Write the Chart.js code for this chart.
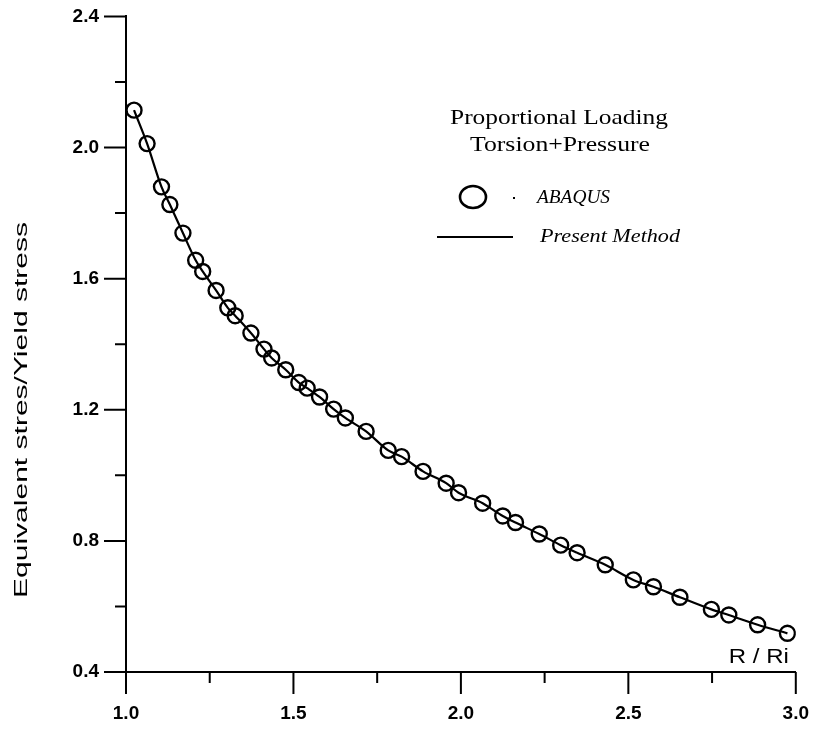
<!DOCTYPE html>
<html>
<head>
<meta charset="utf-8">
<script src="https://cdn.jsdelivr.net/npm/chart.js@4"></script>
<style>
  html, body { margin: 0; padding: 0; background: #fff; }
  #wrap { width: 817px; height: 733px; }
</style>
</head>
<body>
<div id="wrap"><canvas id="myChart"></canvas></div>
<script>
const ctx = document.getElementById("myChart").getContext("2d");

// R / Ri values of the ABAQUS sample points
const radiusRatio = [
  1.024, 1.063, 1.106, 1.131, 1.17, 1.208, 1.229, 1.269, 1.304, 1.326,
  1.373, 1.412, 1.435, 1.477, 1.516, 1.541, 1.578, 1.62, 1.655, 1.717,
  1.783, 1.823, 1.887, 1.956, 1.993, 2.065, 2.125, 2.163, 2.234, 2.298,
  2.347, 2.431, 2.515, 2.575, 2.654, 2.748, 2.8, 2.886, 2.975,
];

// equivalent stress / yield stress at those points
const stressRatio = [
  2.114, 2.012, 1.88, 1.826, 1.739, 1.656, 1.622, 1.564, 1.511, 1.487,
  1.434, 1.385, 1.358, 1.322, 1.283, 1.266, 1.239, 1.202, 1.175, 1.134,
  1.076, 1.057, 1.012, 0.976, 0.947, 0.915, 0.876, 0.856, 0.821, 0.787,
  0.764, 0.727, 0.681, 0.66, 0.628, 0.591, 0.574, 0.544, 0.518,
];

const xTicks = [1.0, 1.5, 2.0, 2.5, 3.0];
const yTicks = [0.4, 0.8, 1.2, 1.6, 2.0, 2.4];

const points = radiusRatio.map((x, i) => ({ x: x, y: stressRatio[i] }));

const SANS = "'Liberation Sans', Arial, sans-serif";
const SERIF = "'Liberation Serif', 'Times New Roman', serif";

// text squeezed or stretched to a given width
function wideText(c, text, x, y, width) {
  const w = c.measureText(text).width;
  c.save();
  c.translate(x, y);
  c.scale(width / w, 1);
  c.fillText(text, 0, 0);
  c.restore();
}

// tick marks (long at labels, short in between), titles and the legend block
const decorations = {
  id: "decorations",
  afterDraw(chart) {
    const c = chart.ctx;
    const xs = chart.scales.x;
    const ys = chart.scales.y;
    const area = chart.chartArea;
    c.save();
    c.strokeStyle = "#000";
    c.lineWidth = 2;
    c.beginPath();
    for (let v = 1.0; v <= 3.0001; v += 0.25) {
      const px = xs.getPixelForValue(v);
      const major = Math.abs(v * 2 - Math.round(v * 2)) < 1e-6;
      c.moveTo(px, area.bottom);
      c.lineTo(px, area.bottom + (major ? 22 : 11));
    }
    for (let v = 0.4; v <= 2.4001; v += 0.2) {
      const py = ys.getPixelForValue(v);
      const major = Math.abs(v / 0.4 - Math.round(v / 0.4)) < 1e-6;
      c.moveTo(area.left, py);
      c.lineTo(area.left - (major ? 22 : 11), py);
    }
    c.stroke();

    // y axis title
    c.fillStyle = "#000";
    c.save();
    c.translate(22, 410);
    c.rotate(-Math.PI / 2);
    c.font = "19px " + SANS;
    c.textAlign = "center";
    c.textBaseline = "middle";
    wideText(c, "Equivalent stres/Yield stress", 0, 0, 376);
    c.restore();

    // x axis title
    c.font = "20px " + SANS;
    c.textAlign = "right";
    c.textBaseline = "middle";
    wideText(c, "R / Ri", area.right - 7, 657, 60);

    // legend
    c.font = "21px " + SERIF;
    c.textAlign = "center";
    wideText(c, "Proportional Loading", 559, 118, 218);
    wideText(c, "Torsion+Pressure", 560, 145, 180);

    c.lineWidth = 2.6;
    c.beginPath();
    c.ellipse(473, 197, 13, 11, 0, 0, Math.PI * 2);
    c.stroke();
    c.fillRect(513, 197, 2, 2);
    c.font = "italic 18px " + SERIF;
    c.textAlign = "left";
    wideText(c, "ABAQUS", 537, 198, 73);

    c.lineWidth = 2;
    c.beginPath();
    c.moveTo(437, 237);
    c.lineTo(513, 237);
    c.stroke();
    wideText(c, "Present Method", 540, 237, 140);
    c.restore();
  },
};

const config = {
  type: "scatter",
  data: {
    datasets: [
      {
        label: "Present Method",
        data: points,
        showLine: true,
        borderColor: "#000",
        borderWidth: 2.2,
        pointRadius: 0,
        cubicInterpolationMode: "monotone",
      },
      {
        label: "ABAQUS",
        data: points,
        showLine: false,
        pointStyle: "circle",
        pointRadius: 7.5,
        pointBorderWidth: 2.4,
        pointBorderColor: "#000",
        pointBackgroundColor: "rgba(0,0,0,0)",
      },
    ],
  },
  options: {
    responsive: true,
    maintainAspectRatio: false,
    animation: false,
    layout: { padding: { top: 16, right: 17, left: 0, bottom: 0 } },
    plugins: {
      legend: { display: false },
      tooltip: { enabled: false },
    },
    scales: {
      x: {
        type: "linear",
        min: 1.0,
        max: 3.0,
        afterBuildTicks: (scale) => {
          scale.ticks = xTicks.map((v) => ({ value: v }));
        },
        afterFit: (scale) => {
          scale.height = 61;
        },
        ticks: {
          padding: 8,
          color: "#000",
          font: { family: SANS, size: 19, weight: "bold" },
          callback: (v) => Number(v).toFixed(1),
          maxRotation: 0,
        },
        grid: {
          display: true,
          drawOnChartArea: false,
          tickLength: 22,
          tickColor: "rgba(0,0,0,0)",
        },
        border: { display: true, color: "#000", width: 2 },
      },
      y: {
        type: "linear",
        min: 0.4,
        max: 2.4,
        afterBuildTicks: (scale) => {
          scale.ticks = yTicks.map((v) => ({ value: v }));
        },
        afterFit: (scale) => {
          scale.width = 126;
        },
        ticks: {
          padding: 5,
          color: "#000",
          font: { family: SANS, size: 19, weight: "bold" },
          callback: (v) => Number(v).toFixed(1),
        },
        grid: {
          display: true,
          drawOnChartArea: false,
          tickLength: 22,
          tickColor: "rgba(0,0,0,0)",
        },
        border: { display: true, color: "#000", width: 2 },
      },
    },
  },
  plugins: [decorations],
};

const myChart = new Chart(ctx, config);
</script>
</body>
</html>
